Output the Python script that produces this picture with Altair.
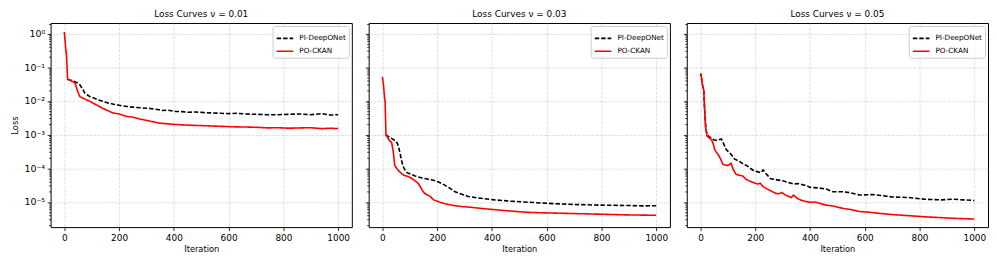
import altair as alt
import pandas as pd

MODELS = ["PI-DeepONet", "PO-CKAN"]
COLORS = ["black", "red"]
TITLES = ["Loss Curves ν = 0.01", "Loss Curves ν = 0.03", "Loss Curves ν = 0.05"]
X_TICKS = [0, 200, 400, 600, 800, 1000]
Y_TICKS = [1, 0.1, 0.01, 0.001, 0.0001, 0.00001]
Y_LABELS = ["10⁰", "10⁻¹", "10⁻²", "10⁻³", "10⁻⁴", "10⁻⁵"]
Y_DOMAIN = [1.78e-6, 2.07]
X_DOMAIN = [-50, 1050]

# ---- nu = 0.01 ----
it_dn_1 = [12, 20, 30, 39, 48, 57, 66, 75, 85, 93, 110, 125, 141, 160, 180, 201, 230, 260, 285, 310,
           345, 360, 380, 405, 430, 453, 480, 510, 540, 570, 600, 630, 660, 700, 742, 780, 820, 862,
           900, 940, 970, 1000]
loss_dn_1 = [0.044, 0.042, 0.04, 0.037, 0.034, 0.03, 0.023, 0.017, 0.015, 0.0135, 0.012, 0.0107,
             0.0097, 0.0087, 0.008, 0.0074, 0.0068, 0.0064, 0.0062, 0.006, 0.0055, 0.0052, 0.0053,
             0.0049, 0.0048, 0.0046, 0.0047, 0.0045, 0.0044, 0.0043, 0.0042, 0.0043, 0.0041, 0.004,
             0.0039, 0.0039, 0.004, 0.0041, 0.0039, 0.0042, 0.0038, 0.0039]
it_ck_1 = [0, 3, 6, 8, 10, 12, 20, 30, 39, 45, 50, 57, 65, 81, 93, 105, 125, 141, 160, 177, 201, 225,
           250, 285, 315, 345, 375, 405, 453, 502, 540, 580, 622, 660, 700, 742, 780, 820, 862, 900,
           940, 970, 1000]
loss_ck_1 = [1.12, 0.6, 0.3, 0.23, 0.1, 0.044, 0.041, 0.038, 0.034, 0.024, 0.018, 0.0135, 0.0125,
             0.0107, 0.0098, 0.0086, 0.0071, 0.006, 0.0051, 0.0044, 0.0041, 0.0035, 0.0033, 0.0028,
             0.0025, 0.0022, 0.0021, 0.002, 0.0019, 0.00185, 0.0018, 0.00175, 0.0017, 0.00168,
             0.00165, 0.00158, 0.0016, 0.00155, 0.00158, 0.0016, 0.0015, 0.00155, 0.0015]

# ---- nu = 0.03 ----
it_dn_2 = [12, 20, 30, 42, 54, 60, 64, 70, 75, 82, 90, 105, 120, 145, 168, 190, 205, 220, 229, 245,
           265, 290, 313, 350, 409, 470, 530, 590, 650, 720, 800, 900, 950, 1000]
loss_dn_2 = [0.001, 0.0009, 0.0008, 0.0007, 0.00057, 0.0004, 0.00029, 0.00017, 0.000117, 9e-5,
             7.4e-5, 6.6e-5, 5.9e-5, 5.1e-5, 4.7e-5, 4.3e-5, 3.9e-5, 3.4e-5, 3.1e-5, 2.6e-5, 2.0e-5,
             1.7e-5, 1.45e-5, 1.3e-5, 1.15e-5, 1.05e-5, 9.8e-6, 9.2e-6, 8.7e-6, 8.3e-6, 8.0e-6,
             7.8e-6, 7.6e-6, 7.7e-6]
it_ck_2 = [0, 4, 8, 10, 13, 18, 24, 34, 40, 45, 52, 60, 70, 78, 96, 110, 120, 130, 138, 146, 154,
           165, 175, 187, 200, 217, 240, 265, 295, 325, 360, 409, 460, 530, 600, 650, 700, 800, 900,
           1000]
loss_ck_2 = [0.052, 0.03, 0.012, 0.0095, 0.001, 0.00085, 0.0007, 0.00057, 0.0003, 0.00012, 0.0001,
             8.3e-5, 7e-5, 6.2e-5, 5.6e-5, 4.8e-5, 4.2e-5, 3.6e-5, 2.9e-5, 2.2e-5, 1.8e-5, 1.6e-5,
             1.45e-5, 1.15e-5, 1.05e-5, 9.3e-6, 8.4e-6, 7.7e-6, 7.2e-6, 6.9e-6, 6.4e-6, 5.9e-6,
             5.4e-6, 4.9e-6, 4.7e-6, 4.6e-6, 4.5e-6, 4.3e-6, 4.1e-6, 4.0e-6]

# ---- nu = 0.05 ----
it_dn_3 = [0, 2, 5, 8, 12, 15, 20, 24, 32, 40, 48, 58, 66, 76, 84, 94, 106, 115, 124, 136, 148, 158,
           169, 182, 196, 210, 220, 229, 240, 256, 275, 304, 320, 340, 358, 376, 390, 400, 430, 460,
           484, 520, 550, 580, 628, 660, 700, 760, 820, 880, 920, 960, 1000]
loss_dn_3 = [0.055, 0.064, 0.04, 0.028, 0.021, 0.006, 0.0015, 0.001, 0.00085, 0.0008, 0.0007,
             0.00068, 0.0007, 0.00074, 0.00055, 0.00036, 0.00029, 0.00024, 0.00019, 0.00017,
             0.00015, 0.00013, 0.00012, 0.0001, 8.3e-5, 7.8e-5, 7.4e-5, 8.9e-5, 6.8e-5, 4.9e-5,
             4.6e-5, 4.2e-5, 3.8e-5, 3.4e-5, 3.5e-5, 3.2e-5, 3.0e-5, 2.7e-5, 2.6e-5, 2.4e-5, 2.0e-5,
             2.0e-5, 1.85e-5, 1.6e-5, 1.65e-5, 1.55e-5, 1.4e-5, 1.35e-5, 1.2e-5, 1.15e-5, 1.2e-5,
             1.15e-5, 1.1e-5]
it_ck_3 = [0, 2, 5, 8, 12, 15, 18, 24, 32, 40, 46, 52, 58, 64, 72, 82, 92, 100, 112, 120, 130, 142,
           154, 165, 178, 192, 208, 218, 230, 244, 258, 274, 286, 298, 310, 322, 332, 340, 352, 364,
           380, 400, 420, 440, 460, 490, 520, 550, 580, 620, 660, 700, 760, 820, 880, 940, 970, 1000]
loss_ck_3 = [0.055, 0.065, 0.04, 0.028, 0.021, 0.006, 0.0018, 0.0009, 0.0008, 0.00071, 0.00055,
             0.00036, 0.0003, 0.00026, 0.0002, 0.00013, 0.000125, 0.00012, 0.00014, 9e-5, 6.6e-5,
             6.2e-5, 5.9e-5, 4.8e-5, 4.2e-5, 3.8e-5, 3.4e-5, 3.6e-5, 2.8e-5, 2.4e-5, 2.1e-5, 1.8e-5,
             1.75e-5, 1.9e-5, 1.6e-5, 1.45e-5, 1.35e-5, 1.6e-5, 1.3e-5, 1.15e-5, 1.05e-5, 9.7e-6,
             9.9e-6, 8.8e-6, 8.0e-6, 7.4e-6, 6.4e-6, 5.9e-6, 5.2e-6, 4.9e-6, 4.5e-6, 4.2e-6, 3.9e-6,
             3.6e-6, 3.4e-6, 3.2e-6, 3.15e-6, 3.1e-6]

PANELS = [
    (it_dn_1, loss_dn_1, it_ck_1, loss_ck_1),
    (it_dn_2, loss_dn_2, it_ck_2, loss_ck_2),
    (it_dn_3, loss_dn_3, it_ck_3, loss_ck_3),
]

Y_MINOR = [m * 10.0 ** e for e in range(-6, 1) for m in range(2, 10)
           if Y_DOMAIN[0] <= m * 10.0 ** e <= Y_DOMAIN[1]]

label_expr = "[" + ",".join("'" + s + "'" for s in Y_LABELS) + "][round(-log(datum.value)/LN10)]"

FONT = "DejaVu Sans"


def panel(i):
    it_dn, loss_dn, it_ck, loss_ck = PANELS[i]
    df = pd.concat([
        pd.DataFrame({"iter": it_dn, "loss": loss_dn, "model": MODELS[0]}),
        pd.DataFrame({"iter": it_ck, "loss": loss_ck, "model": MODELS[1]}),
    ])
    show_y = i == 0
    yscale = alt.Scale(type="log", domain=Y_DOMAIN, nice=False)
    yaxis = alt.Axis(values=Y_TICKS, labelExpr=label_expr, labels=show_y, labelFontSize=9.5,
                     title="Loss" if show_y else None, grid=True, orient="left")
    legend = alt.Legend(title=None, orient="top-right", offset=3, padding=3,
                        strokeColor="#cccccc", fillColor="rgba(255,255,255,0.8)",
                        cornerRadius=2, labelFontSize=7.3, labelFont=FONT,
                        symbolType="stroke", symbolSize=280, symbolStrokeWidth=1.6,
                        rowPadding=-5, labelOffset=5)
    base = alt.Chart(df)
    lines = base.mark_line(strokeWidth=1.6, clip=True).encode(
        x=alt.X("iter:Q", scale=alt.Scale(domain=X_DOMAIN, nice=False, zero=False),
                axis=alt.Axis(values=X_TICKS, format="d", title="Iteration", grid=True,
                              labelFlush=False)),
        y=alt.Y("loss:Q", scale=yscale, axis=yaxis),
        color=alt.Color("model:N", scale=alt.Scale(domain=MODELS, range=COLORS), legend=legend),
        strokeDash=alt.StrokeDash("model:N", scale=alt.Scale(domain=MODELS, range=[[4.5, 2], [1, 0]]),
                                  legend=legend),
    )
    minor = base.mark_point(opacity=0).encode(
        y=alt.Y("loss:Q", scale=yscale,
                axis=alt.Axis(values=Y_MINOR, labels=False, tickSize=2, grid=False,
                              domain=False, orient="left", title=None)),
    )
    return alt.layer(lines, minor).resolve_axis(y="independent").properties(
        width=304, height=206, title=TITLES[i])


chart = alt.hconcat(panel(0), panel(1), panel(2)).resolve_scale(
    color="independent", strokeDash="independent"
).resolve_legend(color="independent", strokeDash="independent").properties(
    padding={"left": 2, "top": 0, "right": 0, "bottom": 0}
).configure_view(stroke="black", strokeWidth=1).configure_axis(
    domain=False, tickColor="black", tickSize=3.5, tickWidth=0.8,
    labelFont=FONT, labelFontSize=9, labelColor="black", labelPadding=2.5,
    titleFont=FONT, titleFontSize=8.3, titleFontWeight="normal", titleColor="black",
    gridColor="#b0b0b0", gridDash=[3, 1.3], gridOpacity=0.5, gridWidth=0.8,
).configure_axisY(titlePadding=4).configure_axisX(titlePadding=3).configure_title(
    font=FONT, fontSize=9, fontWeight="normal", color="black", offset=0, anchor="middle"
).configure_concat(spacing=11)

chart.save("out.html", embed_options={"renderer": "svg", "actions": False})
